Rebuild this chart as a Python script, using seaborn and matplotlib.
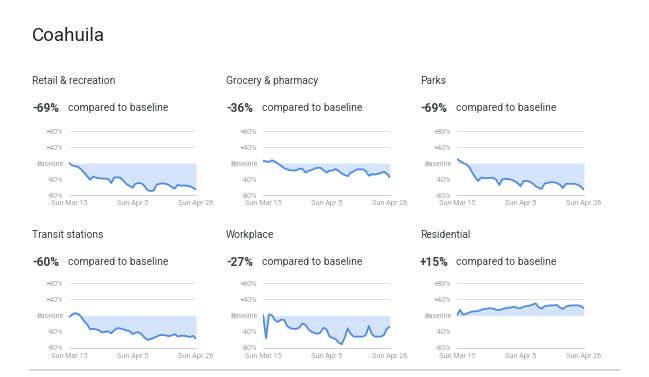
import matplotlib
matplotlib.use("Agg")
import matplotlib.pyplot as plt
import matplotlib.dates as mdates
import pandas as pd
import seaborn as sns

# --- Data ---------------------------------------------------------------------
dates = pd.date_range("2020-03-15", "2020-04-26", freq="D")

categories = ["Retail & recreation", "Grocery & pharmacy", "Parks",
              "Transit stations", "Workplace", "Residential"]
headline = ["-69%", "-36%", "-69%", "-60%", "-27%", "+15%"]

retail = [0, -6, -8, -10, -16, -24, -33, -42, -34, -37, -38, -39, -39, -40, -50,
          -36, -36, -37, -44, -53, -57, -62, -52, -50, -51, -58, -68, -70, -69,
          -54, -52, -51, -52, -55, -60, -64, -54, -57, -56, -57, -58, -62, -67]
grocery = [6, 4, 3, 7, 3, -2, -7, -13, -16, -18, -19, -18, -15, -14, -24, -20,
           -18, -14, -12, -12, -18, -24, -19, -19, -15, -20, -26, -30, -33, -24,
           -21, -16, -16, -16, -20, -32, -28, -29, -27, -25, -22, -27, -36]
parks = [10, 5, 0, -3, -10, -23, -36, -45, -36, -38, -38, -37, -37, -42, -55,
         -40, -40, -40, -42, -45, -50, -58, -45, -45, -46, -51, -58, -62, -65,
         -51, -50, -48, -48, -50, -54, -63, -52, -52, -52, -52, -55, -59, -67]
transit = [-4, 2, 6, 4, -3, -14, -22, -34, -33, -34, -37, -42, -40, -39, -44,
           -36, -31, -32, -34, -37, -38, -46, -42, -41, -46, -55, -60, -58, -55,
           -52, -48, -48, -49, -51, -49, -46, -52, -50, -50, -51, -53, -50, -57]
workplace = [2, -56, 3, 0, -12, -16, -10, -11, -26, -31, -33, -33, -30, -20, -22,
             -34, -40, -43, -45, -42, -30, -34, -52, -55, -58, -66, -71, -55, -32,
             -45, -52, -52, -52, -52, -48, -26, -46, -52, -52, -52, -48, -32, -28]
residential = [0, 14, 2, 4, 7, 10, 10, 11, 14, 16, 17, 18, 17, 14, 13, 16, 18,
               19, 20, 22, 18, 18, 22, 23, 24, 27, 30, 20, 17, 23, 24, 25, 25, 26,
               20, 16, 22, 24, 25, 25, 25, 23, 18]

series = [retail, grocery, parks, transit, workplace, residential]

y_ticks = [-80, -40, 0, 40, 80]
y_labels = ["-80%", "-40%", "Baseline", "+40%", "+80%"]
x_tick_dates = pd.to_datetime(["2020-03-15", "2020-04-05", "2020-04-26"])
x_labels = ["Sun Mar 15", "Sun Apr 5", "Sun Apr 26"]

# --- Style -------------------------------------------------------------------
sns.set_style("white")
plt.rcParams["font.family"] = ["Roboto", "DejaVu Sans"]

LINE = "#4f8ce6"
FILL = "#d6e4fb"
GRID = "#e3e3e3"
TICK = "#9aa0a6"
TEXT = "#3c4043"

W, H = 649, 377
fig = plt.figure(figsize=(W / 100, H / 100), dpi=100)

fig.text(32 / W, 1 - 36 / H, "Coahuila", fontsize=13.5, color="#202124",
         va="center", ha="left")

col_x = [(69, 196), (263, 390), (457, 584)]
text_x = [32, 226, 420]
row_y = [(131, 195), (283, 348)]
title_y = [81, 235]
pct_y = [108, 262]

for k, (name, vals) in enumerate(zip(categories, series)):
    r, c = divmod(k, 3)
    x0, x1 = col_x[c]
    ytop, ybot = row_y[r]
    ax = fig.add_axes([x0 / W, 1 - ybot / H, (x1 - x0) / W, (ybot - ytop) / H])

    df = pd.DataFrame({"date": dates, "value": vals})
    ax.fill_between(df["date"], 0, df["value"], color=FILL, linewidth=0)
    sns.lineplot(data=df, x="date", y="value", ax=ax, color=LINE, linewidth=1.3)

    ax.set_ylim(-80, 80)
    ax.set_xlim(dates[0], dates[-1])
    ax.set_yticks(y_ticks)
    ax.set_yticklabels(y_labels)
    ax.set_xticks(x_tick_dates)
    ax.set_xticklabels(x_labels)
    ax.xaxis.set_minor_locator(mdates.DayLocator(interval=7))
    ax.tick_params(axis="y", length=0, labelsize=5.2, labelcolor=TICK, pad=4)
    ax.tick_params(axis="x", which="major", length=2.5, color="#cccccc",
                   labelsize=5.2, labelcolor=TICK, pad=1)
    ax.tick_params(axis="x", which="minor", length=2.5, color="#cccccc")
    ax.set_xlabel("")
    ax.set_ylabel("")
    for yv in [40, 80]:
        ax.axhline(yv, color=GRID, linewidth=0.7, zorder=0)
    for side in ["top", "right", "left"]:
        ax.spines[side].set_visible(False)
    ax.spines["bottom"].set_color("#cccccc")
    ax.spines["bottom"].set_linewidth(0.7)

    fig.text(text_x[c] / W, 1 - title_y[r] / H, name, fontsize=7.4,
             color=TEXT, va="center", ha="left")
    fig.text(text_x[c] / W, 1 - pct_y[r] / H, headline[k], fontsize=8.6,
             fontweight="bold", color=TEXT, va="center", ha="left")
    fig.text((text_x[c] + 36) / W, 1 - pct_y[r] / H, "compared to baseline",
             fontsize=7.5, color=TEXT, va="center", ha="left")

# bottom divider
fig.add_artist(plt.Line2D([30 / W, 619 / W], [1 - 370 / H, 1 - 370 / H],
                          color="#cfcfcf", linewidth=1.2))

fig.savefig("out.png", dpi=100, facecolor="white")
